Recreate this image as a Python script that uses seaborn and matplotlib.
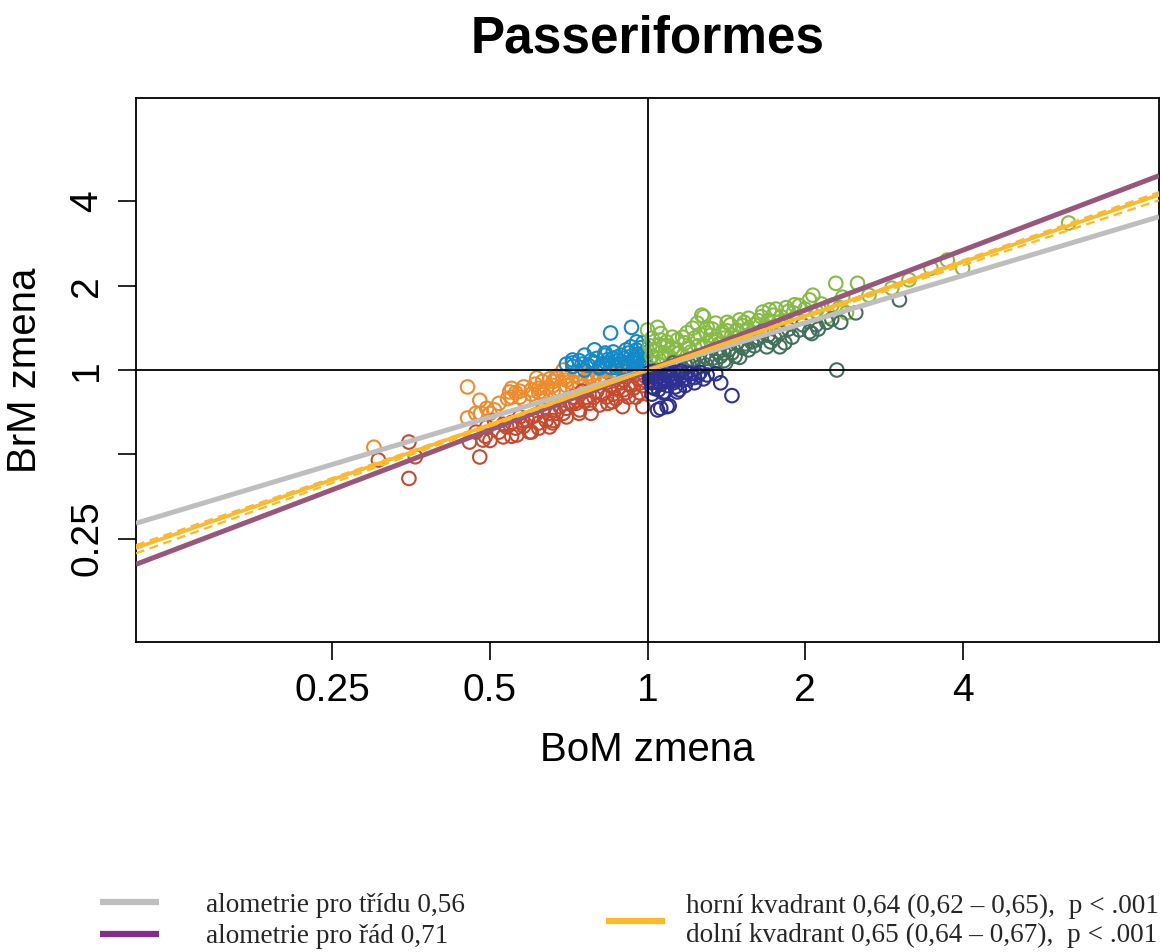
import numpy as np
import pandas as pd
import matplotlib
matplotlib.use("Agg")
import matplotlib.pyplot as plt
import seaborn as sns
from matplotlib.lines import Line2D
from matplotlib.ticker import NullLocator

# ---------------- data ----------------
orange_x = [0.30, 0.453, 0.478, 0.453, 0.493, 0.47, 0.50, 0.545, 0.56, 0.55, 0.614, 0.69, 0.673,
            0.641, 0.631, 0.719, 0.74, 0.786, 0.81, 0.60, 0.66, 0.70, 0.76, 0.83, 0.87, 0.90, 0.93,
            0.68, 0.72, 0.64, 0.58, 0.52, 0.62, 0.78, 0.85, 0.66, 0.75, 0.57, 0.96,
            0.55, 0.58, 0.61, 0.63, 0.65, 0.67, 0.70, 0.73, 0.77, 0.80, 0.83, 0.86, 0.62, 0.66,
            0.70, 0.74, 0.79, 0.88, 0.92, 0.60, 0.54, 0.51, 0.48, 0.57]
orange_y = [0.53, 0.87, 0.78, 0.674, 0.73, 0.70, 0.70, 0.835, 0.83, 0.80, 0.936, 1.0, 0.936,
            0.862, 0.835, 0.90, 0.94, 0.92, 0.94, 0.82, 0.88, 0.88, 0.92, 0.93, 0.95, 0.96, 0.97,
            0.85, 0.86, 0.80, 0.78, 0.76, 0.86, 0.95, 0.97, 0.91, 0.97, 0.80, 0.98,
            0.86, 0.87, 0.89, 0.91, 0.93, 0.95, 0.95, 0.96, 0.97, 0.98, 0.99, 0.99, 0.83, 0.84,
            0.92, 0.90, 0.93, 0.98, 0.99, 0.85, 0.79, 0.72, 0.70, 0.84]

red_x = [0.306, 0.35, 0.36, 0.35, 0.478, 0.457, 0.50, 0.485, 0.493, 0.53, 0.538, 0.563, 0.577,
         0.595, 0.62, 0.65, 0.659, 0.65, 0.70, 0.719, 0.742, 0.765, 0.775, 0.81, 0.835, 0.857,
         0.896, 0.91, 0.965, 0.98, 0.52, 0.55, 0.60, 0.63, 0.68, 0.72, 0.75, 0.80, 0.88, 0.93,
         0.97, 0.95, 0.86, 0.78, 0.69, 0.58, 0.47, 0.51, 0.55, 0.62, 0.90, 0.85, 0.99,
         0.56, 0.59, 0.61, 0.64, 0.67, 0.70, 0.73, 0.76, 0.79, 0.82, 0.84, 0.87, 0.90, 0.92,
         0.94, 0.96, 0.98, 0.74, 0.66, 0.57, 0.53, 0.49, 0.60, 0.71, 0.89]
red_y = [0.477, 0.553, 0.49, 0.41, 0.489, 0.553, 0.56, 0.562, 0.626, 0.577, 0.626, 0.586, 0.66,
         0.60, 0.647, 0.626, 0.647, 0.70, 0.68, 0.76, 0.72, 0.80, 0.76, 0.75, 0.80, 0.77,
         0.74, 0.83, 0.83, 0.74, 0.60, 0.65, 0.68, 0.72, 0.74, 0.80, 0.84, 0.84, 0.86, 0.88,
         0.90, 0.80, 0.82, 0.70, 0.70, 0.63, 0.60, 0.66, 0.58, 0.62, 0.92, 0.88, 0.95,
         0.62, 0.66, 0.69, 0.66, 0.70, 0.73, 0.76, 0.78, 0.80, 0.82, 0.76, 0.79, 0.85, 0.80,
         0.86, 0.93, 0.88, 0.70, 0.66, 0.68, 0.64, 0.58, 0.60, 0.77, 0.90]

blue_x = [0.85, 0.932, 0.953, 0.792, 0.758, 0.719, 0.719, 0.758, 0.786, 0.828, 0.873, 0.91, 0.953,
          0.965, 0.835, 0.873, 0.91, 0.978, 0.81, 0.90, 0.94, 0.98, 0.95, 0.88, 0.80, 0.70, 0.74,
          0.99, 0.97, 0.93, 0.85, 0.96, 0.99, 0.92, 0.89, 0.86, 0.77, 0.84,
          0.72, 0.75, 0.78, 0.82, 0.86, 0.90, 0.94, 0.97, 0.99, 0.92, 0.87, 0.83, 0.96, 0.98,
          0.93, 0.81, 0.89, 0.95]
blue_y = [1.356, 1.42, 1.26, 1.18, 1.13, 1.086, 1.06, 1.0, 1.06, 1.13, 1.11, 1.18, 1.18,
          1.11, 1.06, 1.04, 1.06, 1.06, 1.017, 1.02, 1.03, 1.02, 1.08, 1.08, 1.10, 1.05, 1.08,
          1.15, 1.20, 1.12, 1.02, 1.01, 1.04, 1.15, 1.13, 1.16, 1.04, 1.09,
          1.03, 1.05, 1.08, 1.05, 1.10, 1.10, 1.06, 1.09, 1.08, 1.05, 1.02, 1.15, 1.14, 1.25,
          1.21, 1.03, 1.05, 1.03]

lgreen_x = [1.0, 1.045, 1.27, 1.28, 1.245, 1.22, 1.35, 1.42, 1.5, 1.56, 1.116, 1.167, 1.087, 1.054,
            1.295, 1.39, 1.48, 1.022, 1.116, 1.66, 1.71, 1.76, 1.84, 1.91, 2.04, 2.07, 2.29, 2.52,
            2.36, 2.65, 2.93, 3.16, 3.48, 3.74, 4.0, 6.38, 2.4, 2.2, 2.33, 1.05, 1.10, 1.15, 1.2,
            1.25, 1.3, 1.35, 1.4, 1.45, 1.55, 1.6, 1.7, 1.8, 1.9, 2.0, 1.03, 1.08, 1.12, 1.18,
            1.65, 1.95, 2.15, 1.3, 1.02, 1.06,
            1.02, 1.04, 1.07, 1.09, 1.13, 1.17, 1.21, 1.23, 1.27, 1.32, 1.37, 1.42, 1.47, 1.52,
            1.58, 1.63, 1.68, 1.74, 1.78, 1.86, 1.14, 1.19, 1.33, 1.44, 1.53, 1.01, 1.06, 1.26,
            2.1, 2.25]
lgreen_y = [1.39, 1.42, 1.57, 1.55, 1.47, 1.41, 1.47, 1.48, 1.51, 1.53, 1.31, 1.31, 1.26, 1.23,
            1.356, 1.37, 1.39, 1.18, 1.2, 1.61, 1.64, 1.65, 1.67, 1.71, 1.78, 1.85, 2.04, 2.04,
            1.82, 1.85, 1.96, 2.1, 2.31, 2.47, 2.31, 3.35, 1.6, 1.55, 1.67, 1.10, 1.12, 1.15, 1.2,
            1.22, 1.25, 1.28, 1.3, 1.33, 1.40, 1.45, 1.5, 1.55, 1.6, 1.65, 1.05, 1.15, 1.08, 1.25,
            1.55, 1.7, 1.72, 1.42, 1.3, 1.35,
            1.12, 1.18, 1.10, 1.22, 1.18, 1.12, 1.16, 1.30, 1.20, 1.33, 1.24, 1.38, 1.30, 1.44,
            1.35, 1.50, 1.42, 1.57, 1.48, 1.62, 1.28, 1.36, 1.40, 1.45, 1.48, 1.22, 1.28, 1.34,
            1.62, 1.70]

dgreen_x = [2.3, 3.03, 2.04, 2.06, 2.34, 2.2, 1.79, 1.83, 1.69, 1.56, 1.5, 1.41, 1.35, 1.295,
            1.45, 1.61, 1.95, 1.89, 1.75, 1.52, 1.3, 1.2, 1.25, 1.4, 1.6, 1.7, 2.1, 2.5, 1.15,
            1.38, 1.48, 1.65,
            1.10, 1.18, 1.22, 1.28, 1.33, 1.36, 1.43, 1.47, 1.54, 1.58, 1.63, 1.72, 1.80, 1.86,
            1.98, 2.12, 2.25, 1.12, 1.25, 1.40]
dgreen_y = [1.0, 1.78, 1.37, 1.35, 1.48, 1.48, 1.21, 1.25, 1.21, 1.18, 1.11, 1.06, 1.07, 1.04,
            1.15, 1.28, 1.39, 1.31, 1.30, 1.2, 1.1, 1.05, 1.08, 1.15, 1.22, 1.33, 1.45, 1.6, 1.03,
            1.12, 1.25, 1.37,
            1.02, 1.04, 1.09, 1.12, 1.10, 1.16, 1.18, 1.12, 1.24, 1.26, 1.30, 1.26, 1.36, 1.40,
            1.45, 1.40, 1.52, 1.06, 1.02, 1.08]

navy_x = [1.045, 1.09, 1.38, 1.45, 1.23, 1.23, 1.14, 1.08, 1.26, 1.19, 1.02, 1.01, 1.116, 1.054,
          1.15, 1.09, 1.05, 1.06, 1.10, 1.30, 1.20, 1.03, 1.08, 1.12, 1.16, 1.05, 1.01, 1.03,
          1.07, 1.12, 1.35, 1.18, 1.02, 1.10, 1.25,
          1.01, 1.02, 1.04, 1.04, 1.06, 1.06, 1.08, 1.09, 1.11, 1.13, 1.14, 1.17, 1.21, 1.28,
          1.03, 1.07, 1.13, 1.02, 1.05, 1.16]
navy_y = [0.72, 0.74, 0.90, 0.81, 0.90, 0.94, 0.835, 0.835, 0.98, 0.975, 0.87, 0.92, 0.92, 0.975,
          0.85, 0.88, 0.85, 0.73, 0.745, 0.96, 0.93, 0.95, 0.96, 0.97, 0.95, 0.90, 0.98, 0.99,
          0.93, 0.90, 0.97, 0.88, 0.82, 0.99, 0.96,
          0.95, 0.90, 0.93, 0.97, 0.95, 0.89, 0.91, 0.98, 0.94, 0.92, 0.98, 0.92, 0.97, 0.93,
          0.86, 0.83, 0.87, 0.98, 0.99, 0.99]

# regression slopes (from legend)
slope_class = 0.56
slope_order = 0.71
slope_upper, ci_upper = 0.64, (0.62, 0.65)
slope_lower, ci_lower = 0.65, (0.64, 0.67)

x_ticks = [0.25, 0.5, 1, 2, 4]
x_ticklabels = ["0.25", "0.5", "1", "2", "4"]
y_ticks = [0.25, 0.5, 1, 2, 4]
y_ticklabels = ["0.25", "", "1", "2", "4"]

legend_left = ["alometrie pro třídu 0,56", "alometrie pro řád 0,71"]
legend_right = "horní kvadrant 0,64 (0,62 – 0,65),  p < .001\ndolní kvadrant 0,65 (0,64 – 0,67),  p < .001"

groups = {
    "orange": (orange_x, orange_y, "#EC8C2D"),
    "red": (red_x, red_y, "#C64A30"),
    "blue": (blue_x, blue_y, "#1389C8"),
    "lgreen": (lgreen_x, lgreen_y, "#86BC45"),
    "dgreen": (dgreen_x, dgreen_y, "#43705A"),
    "navy": (navy_x, navy_y, "#2E3192"),
}
rows = []
for g, (xs, ys, _) in groups.items():
    for a, b in zip(xs, ys):
        rows.append((a, b, g))
df = pd.DataFrame(rows, columns=["BoM", "BrM", "group"])
palette = {g: c for g, (_, _, c) in groups.items()}

# ---------------- style ----------------
sns.set_theme(style="white")
plt.rcParams['font.family'] = ['Liberation Sans', 'DejaVu Sans']

fig = plt.figure(figsize=(11.6, 9.52), dpi=100)
ax = fig.add_axes([136/1160, 1-642/952, (1159-136)/1160, (642-98)/952])

sns.scatterplot(data=df, x="BoM", y="BrM", hue="group", palette=palette,
                hue_order=list(groups.keys()), s=95, linewidth=1.5, legend=False, ax=ax)
pc = ax.collections[-1]
fc = pc.get_facecolors()
pc.set_edgecolors(fc)
pc.set_facecolors("none")
pc.set_linewidths(1.5)

ax.set_xscale("log", base=2)
ax.set_yscale("log", base=2)
xlo, xhi = 2**-3.247, 2**3.247
ylo, yhi = 2**-3.227, 2**3.227
ax.set_xlim(xlo, xhi)
ax.set_ylim(ylo, yhi)

xs_full = np.geomspace(xlo, xhi, 300)
ax.plot(xs_full, xs_full**slope_class, color="#BEBEBE", lw=3.6, solid_capstyle="butt", zorder=3)
ax.plot(xs_full, xs_full**slope_order, color="#98567A", lw=3.6, solid_capstyle="butt", zorder=3)

yellow = "#FDB927"
xs_low = np.geomspace(xlo, 1, 150)
xs_up = np.geomspace(1, xhi, 150)
for s in ci_lower:
    ax.plot(xs_low, xs_low**s, color=yellow, lw=1.6, dashes=(4, 2.5), zorder=4)
for s in ci_upper:
    ax.plot(xs_up, xs_up**s, color=yellow, lw=1.6, dashes=(4, 2.5), zorder=4)
ax.plot(xs_low, xs_low**slope_lower, color=yellow, lw=2.6, zorder=5)
ax.plot(xs_up, xs_up**slope_upper, color=yellow, lw=2.6, zorder=5)

ax.axhline(1, color="black", lw=1.3, zorder=6)
ax.axvline(1, color="black", lw=1.3, zorder=6)

ax.set_xticks(x_ticks)
ax.set_xticklabels(x_ticklabels)
ax.set_yticks(y_ticks)
ax.set_yticklabels(y_ticklabels)
ax.xaxis.set_minor_locator(NullLocator())
ax.yaxis.set_minor_locator(NullLocator())
ax.tick_params(axis="both", which="major", bottom=True, left=True, direction="out",
               length=13, width=1.2, color="black", labelsize=28, labelcolor="black", pad=9)
for lab in ax.get_yticklabels():
    lab.set_rotation(90)
    lab.set_va("center")

for sp in ax.spines.values():
    sp.set_color("black")
    sp.set_linewidth(1.3)

ax.set_title("Passeriformes", fontsize=37, fontweight="bold", pad=33, color="black")
ax.set_xlabel("BoM zmena", fontsize=29, labelpad=16, color="black")
ax.set_ylabel("BrM zmena", fontsize=29, labelpad=18, color="black")

leg_font = {"family": "Liberation Serif", "size": 19.6}
h1 = [Line2D([], [], color="#BEBEBE", lw=4.5, solid_capstyle="butt"),
      Line2D([], [], color="#862C8A", lw=4.5, solid_capstyle="butt")]
leg1 = fig.legend(handles=h1, labels=legend_left, loc="center left",
                  bbox_to_anchor=(100/1160, 1-921/952), frameon=False, prop=leg_font,
                  handlelength=2.15, handletextpad=1.75, labelspacing=0.25,
                  borderpad=0, borderaxespad=0)
h2 = [Line2D([], [], color=yellow, lw=4.5, solid_capstyle="butt")]
leg2 = fig.legend(handles=h2, labels=[legend_right], loc="center left",
                  bbox_to_anchor=(606/1160, 1-921/952), frameon=False, prop=leg_font,
                  handlelength=2.15, handletextpad=0.8, borderpad=0, borderaxespad=0)
for t in leg2.get_texts():
    t.set_linespacing(1.22)

fig.savefig("out.png", dpi=100)
